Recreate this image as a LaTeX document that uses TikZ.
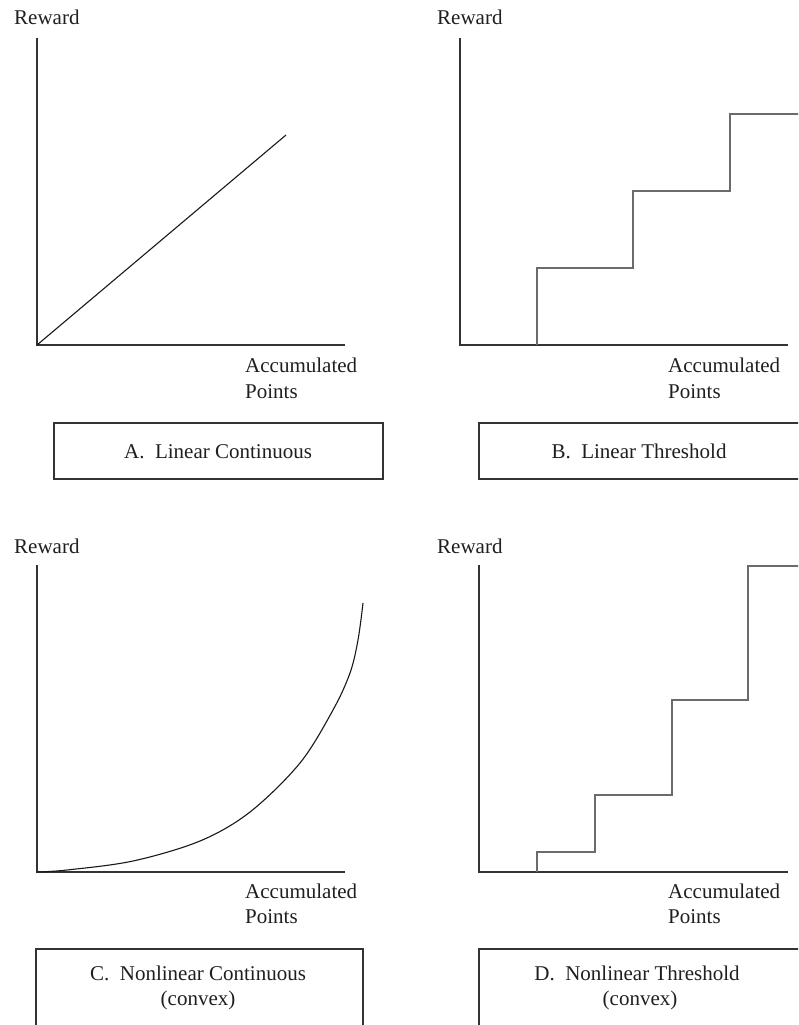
\documentclass[tikz,border=0pt]{standalone}
\usepackage{fontspec}
\setmainfont{Liberation Serif}
\begin{document}
\begin{tikzpicture}[x=1pt,y=-1pt,
  lbl/.style={inner sep=0pt,font=\fontsize{21}{25}\selectfont,text=black!88},
  axis/.style={draw=black!80,line width=1.3pt},
  stepline/.style={draw=black!58,line width=1.6pt},
  capbox/.style={draw=black!80,line width=2pt},
  curve/.style={draw=black!90,line width=1.1pt}]
\clip (0,0) rectangle (798,1025);
\fill[white] (0,0) rectangle (798,1025);

% ---------- Panel A ----------
\node[lbl,anchor=base west] (rewA) at (14,25) {Reward};
\coordinate (oA) at (37,345);
\coordinate (yA) at (37,38);
\coordinate (xA) at (345,345);
\coordinate (eA) at (286,135);
\draw[axis] (yA) -- (oA) -- (xA);
\draw[curve] (oA) -- (eA);
\node[lbl,anchor=base west] (accA) at (245,372) {Accumulated};
\node[lbl,anchor=base west] (ptsA) at (245,398) {Points};
\draw[capbox] (54,423) rectangle (383,479);
\node[lbl,anchor=base] (capA) at (218,458) {A.\ \ Linear Continuous};

% ---------- Panel B ----------
\node[lbl,anchor=base west] (rewB) at (437,25) {Reward};
\coordinate (oB) at (460,345);
\coordinate (yB) at (460,38);
\coordinate (xB) at (788,345);
\draw[axis] (yB) -- (oB) -- (xB);
\draw[stepline] (537,345) -- (537,268) -- (633,268) -- (633,191) -- (730,191) -- (730,114) -- (810,114);
\node[lbl,anchor=base west] (accB) at (668,372) {Accumulated};
\node[lbl,anchor=base west] (ptsB) at (668,398) {Points};
\draw[capbox] (810,423) -- (479,423) -- (479,479) -- (810,479);
\node[lbl,anchor=base] (capB) at (639,458) {B.\ \ Linear Threshold};

% ---------- Panel C ----------
\node[lbl,anchor=base west] (rewC) at (14,553) {Reward};
\coordinate (oC) at (37,872);
\coordinate (yC) at (37,565);
\coordinate (xC) at (345,872);
\draw[axis] (yC) -- (oC) -- (xC);
\draw[curve] plot[smooth,tension=0.55] coordinates {(37,872) (67,870) (133,861) (200,841) (250,812) (300,763) (333,710) (350,673) (358,640) (363,603)};
\node[lbl,anchor=base west] (accC) at (245,898) {Accumulated};
\node[lbl,anchor=base west] (ptsC) at (245,923) {Points};
\draw[capbox] (36,1040) -- (36,949) -- (363,949) -- (363,1040);
\node[lbl,anchor=base] (capC1) at (198,980) {C.\ \ Nonlinear Continuous};
\node[lbl,anchor=base] (capC2) at (198,1005) {(convex)};

% ---------- Panel D ----------
\node[lbl,anchor=base west] (rewD) at (437,553) {Reward};
\coordinate (oD) at (479,872);
\coordinate (yD) at (479,565);
\coordinate (xD) at (788,872);
\draw[axis] (yD) -- (oD) -- (xD);
\draw[stepline] (537,872) -- (537,852) -- (595,852) -- (595,795) -- (672,795) -- (672,700) -- (748,700) -- (748,566) -- (810,566);
\node[lbl,anchor=base west] (accD) at (668,898) {Accumulated};
\node[lbl,anchor=base west] (ptsD) at (668,923) {Points};
\draw[capbox] (479,1040) -- (479,949) -- (810,949);
\node[lbl,anchor=base] (capD1) at (637,980) {D.\ \ Nonlinear Threshold};
\node[lbl,anchor=base] (capD2) at (640,1005) {(convex)};
\end{tikzpicture}
\end{document}
